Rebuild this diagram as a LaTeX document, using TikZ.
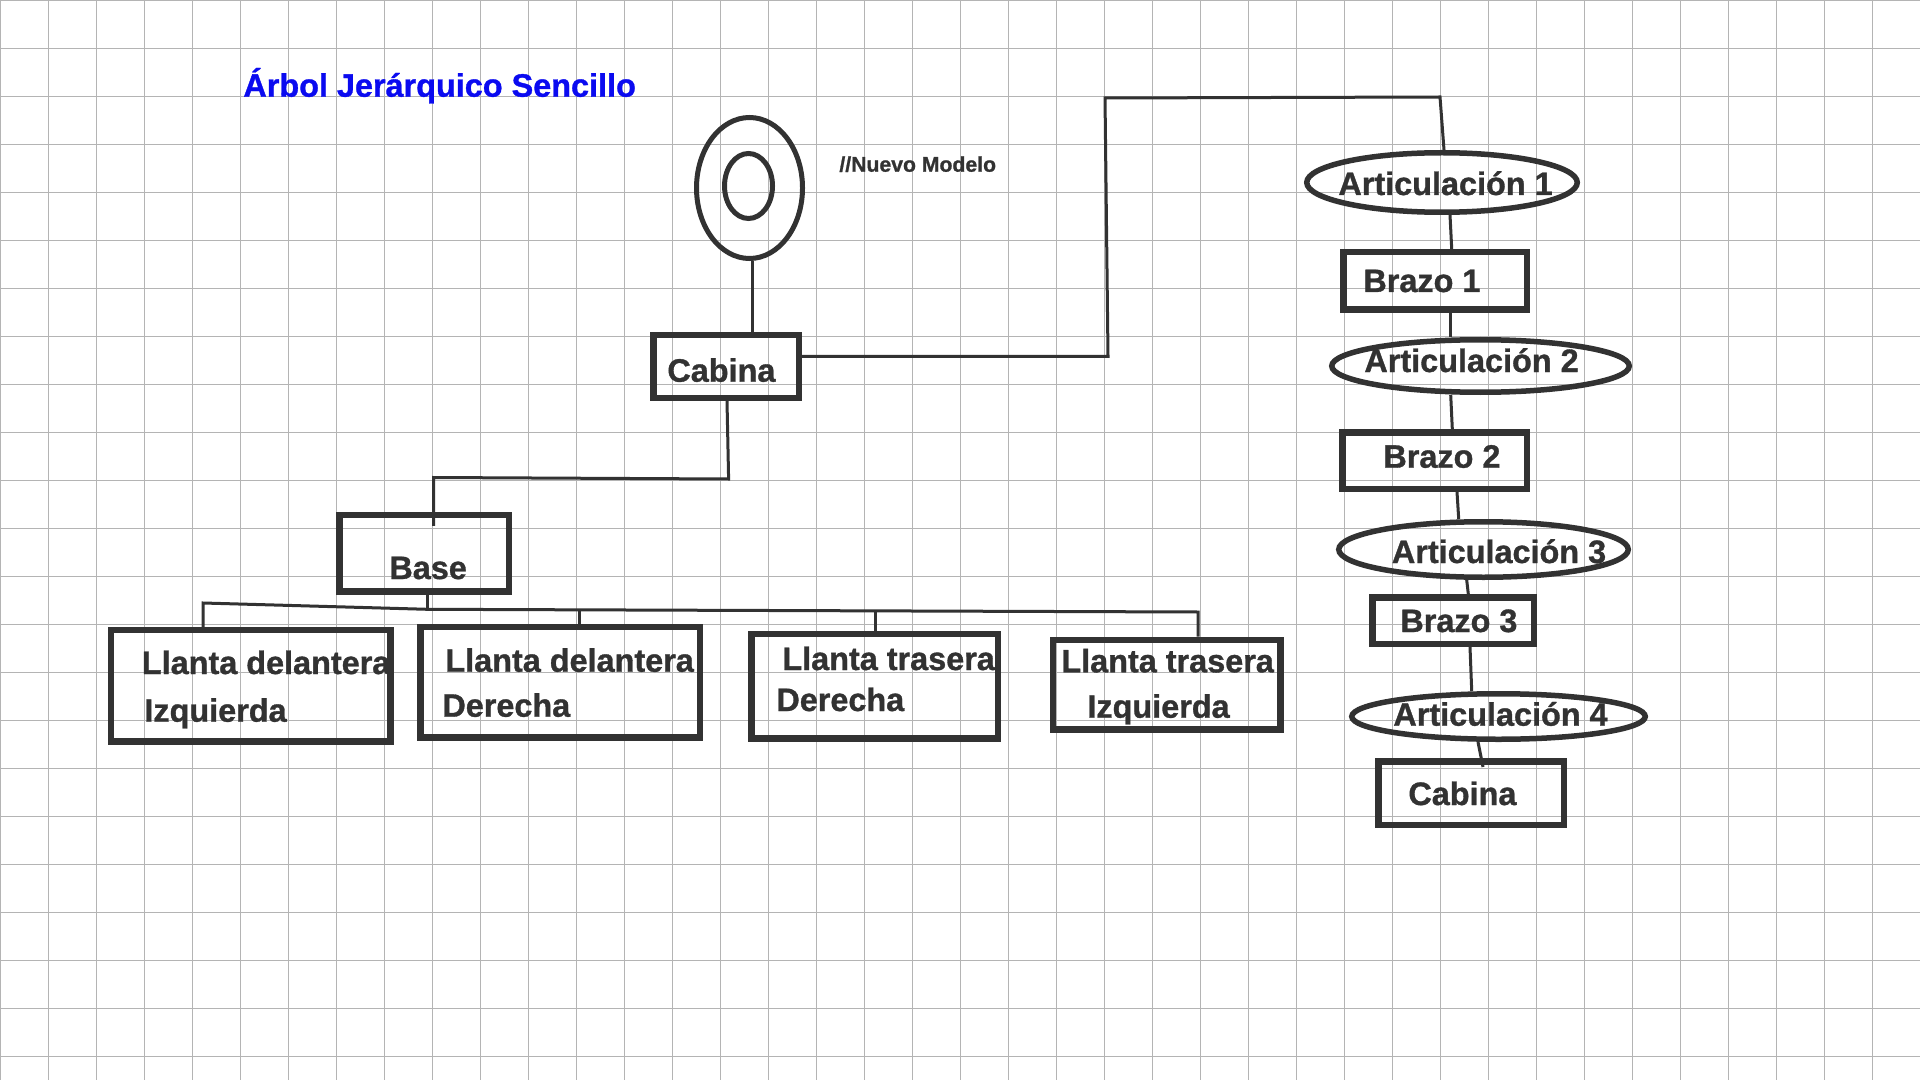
\documentclass[tikz,border=0pt]{standalone}
\usepackage{fontspec}
\setmainfont{Liberation Sans}
\newfontfamily\lblfont{Liberation Sans}[BoldFeatures={FakeBold=1}]
\usetikzlibrary{shapes.geometric,calc}
\definecolor{ink}{HTML}{323232}
\definecolor{gridc}{HTML}{B4B4B4}
\definecolor{titleblue}{HTML}{0A0AF0}
\begin{document}
\begin{tikzpicture}[x=0.5pt,y=-0.5pt,
 boxn/.style={draw=ink,line width=3.25pt,rectangle,inner sep=0pt},
 ovaln/.style={draw=ink,line width=2.75pt,ellipse,inner sep=0pt},
 conn/.style={draw=ink,line width=1.5pt},
 lbl/.style={anchor=base west,inner sep=0pt,text=ink,font=\lblfont\fontsize{16.2pt}{19pt}\selectfont\bfseries},
 gridl/.style={draw=gridc,line width=0.5pt}]
\fill[white] (0,0) rectangle (1920,1080);
\useasboundingbox (0,0) rectangle (1920,1080);
\foreach \i in {0.5,48.5,...,1920} \draw[gridl] (\i,0) -- (\i,1080);
\foreach \j in {0.5,48.5,...,1080} \draw[gridl] (0,\j) -- (1920,\j);

% title and note
\node[lbl,text=titleblue] (title) at (243,96.7) {Árbol Jerárquico Sencillo};
\node[lbl,font=\lblfont\fontsize{10.6pt}{12pt}\selectfont\bfseries] (nm) at (839,171.7) {//Nuevo Modelo};

% model symbol
\node[ovaln,line width=2.5pt,minimum width=53pt,minimum height=70.5pt] (ring) at (749.5,188) {};
\node[ovaln,line width=2.5pt,minimum width=24pt,minimum height=32.5pt] (core) at (748.5,186) {};

% boxes
\node[boxn,minimum width=72.75pt,minimum height=31.25pt] (cab) at (726,366.5) {};
\node[boxn,minimum width=84.75pt,minimum height=38.25pt] (base) at (424,553.4) {};
\node[boxn,minimum width=139.75pt,minimum height=55.75pt] (ldi) at (250.8,685.9) {};
\node[boxn,minimum width=139.75pt,minimum height=55.25pt] (ldd) at (560,682.4) {};
\node[boxn,minimum width=123.25pt,minimum height=52.25pt] (ltd) at (874.5,686.2) {};
\node[boxn,minimum width=113.75pt,minimum height=44.75pt] (lti) at (1166.9,684.5) {};
\node[boxn,minimum width=91.75pt,minimum height=28.75pt] (b1) at (1435,281) {};
\node[boxn,minimum width=92.25pt,minimum height=28.25pt] (b2) at (1434.5,460.5) {};
\node[boxn,minimum width=80.75pt,minimum height=23.25pt] (b3) at (1453,620.5) {};
\node[boxn,minimum width=92.75pt,minimum height=31.75pt] (cab2) at (1471,793) {};

% joints
\node[ovaln,minimum width=135.25pt,minimum height=29.75pt] (a1) at (1442,182.5) {};
\node[ovaln,minimum width=148.75pt,minimum height=26.25pt] (a2) at (1480.5,366) {};
\node[ovaln,minimum width=144.75pt,minimum height=27.75pt] (a3) at (1483.5,549.5) {};
\node[ovaln,minimum width=146.75pt,minimum height=22.75pt] (a4) at (1498.5,716.5) {};

% labels
\node[lbl] (tcab) at (667,381.7) {Cabina};
\node[lbl] (tbase) at (389,579) {Base};
\node[lbl] (tldi1) at (141.5,674) {Llanta delantera};
\node[lbl] (tldi2) at (144,721.7) {Izquierda};
\node[lbl] (tldd1) at (445,671.7) {Llanta delantera};
\node[lbl] (tldd2) at (442,716.7) {Derecha};
\node[lbl] (tltd1) at (782,670) {Llanta trasera};
\node[lbl] (tltd2) at (776,711) {Derecha};
\node[lbl] (tlti1) at (1061,672.3) {Llanta trasera};
\node[lbl] (tlti2) at (1087,717.7) {Izquierda};
\node[lbl] (ta1) at (1338,195) {Articulación 1};
\node[lbl] (tb1) at (1363,292) {Brazo 1};
\node[lbl] (ta2) at (1364,372) {Articulación 2};
\node[lbl] (tb2) at (1383,467.7) {Brazo 2};
\node[lbl] (ta3) at (1391.5,563) {Articulación 3};
\node[lbl] (tb3) at (1400,632) {Brazo 3};
\node[lbl] (ta4) at (1393,725.7) {Articulación 4};
\node[lbl] (tcab2) at (1408,805) {Cabina};

% connectors
\draw[conn] ([xshift=1.6pt]ring.south) -- ([xshift=1.6pt]ring.south |- cab.north);
\draw[conn] ([yshift=5pt]cab.east) -- (1108,356.5) -- (1105,98) -- (1440,97) -- ([xshift=1pt]a1.north);
\draw[conn] ([xshift=0.5pt]cab.south) -- (728.6,479) -- (433.5,477.5) -- ([xshift=4.8pt,yshift=-7pt]base.north);

\coordinate (jl) at (203,603);
\coordinate (jb) at (427.3,609.3);
\coordinate (jd) at (579,610.5);
\coordinate (jt) at (875.5,610.5);
\coordinate (jr) at (1198,612);
\draw[conn] ([xshift=1.65pt]base.south) -- (jb);
\draw[conn] (ldi.north -| jl) -- (jl) -- (jb) -- (jr) -- (lti.north -| jr);
\draw[conn] (jd) -- (ldd.north -| jd);
\draw[conn] (jt) -- (ltd.north -| jt);

\draw[conn] ([xshift=4pt]a1.south) -- ([xshift=8.35pt]b1.north);
\draw[conn] ([xshift=7.85pt]b1.south) -- ([xshift=-14.9pt]a2.north);
\draw[conn] ([xshift=-14.9pt]a2.south) -- ([xshift=8.9pt]b2.north);
\draw[conn] ([xshift=11.25pt]b2.south) -- ([xshift=-12.4pt]a3.north);
\draw[conn] ([xshift=-8.4pt]a3.south) -- ([xshift=7.65pt]b3.north);
\draw[conn] ([xshift=8.5pt]b3.south) -- ([xshift=-13.4pt]a4.north);
\draw[conn] ([xshift=-10.25pt]a4.south) -- ([xshift=6pt,yshift=-4.5pt]cab2.north);
\end{tikzpicture}
\end{document}
